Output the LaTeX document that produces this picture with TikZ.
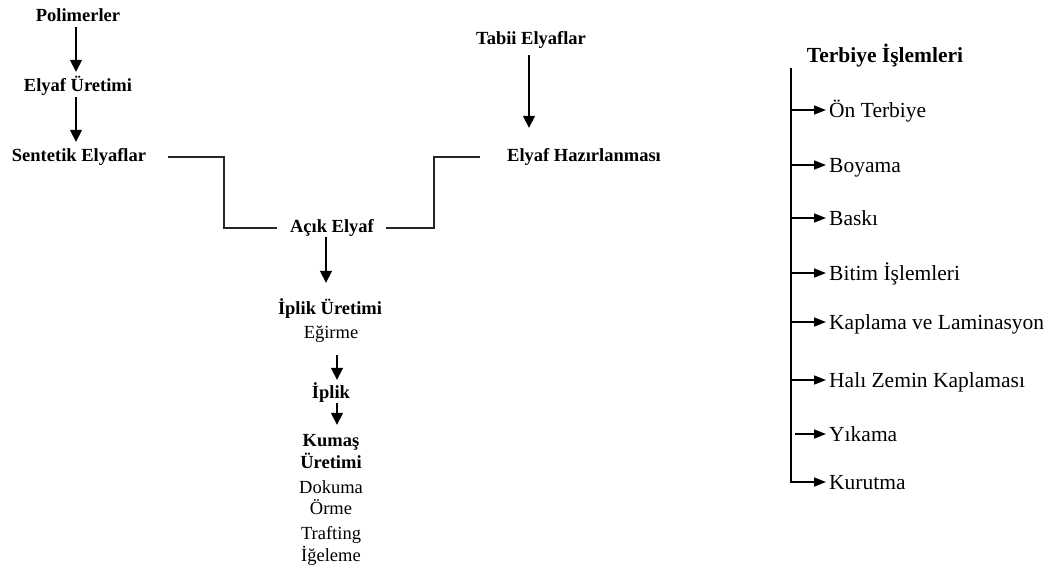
\documentclass[tikz,border=0pt]{standalone}
\usepackage{fontspec}
\setmainfont{Liberation Serif}
\usetikzlibrary{arrows.meta}
\begin{document}
\begin{tikzpicture}[x=1pt,y=-1pt,
  lb/.style={font=\fontsize{18.5}{22}\selectfont\bfseries, inner sep=0pt, text height=13pt, text depth=4pt},
  lr/.style={font=\fontsize{18.5}{22}\selectfont, inner sep=0pt, text height=13pt, text depth=4pt},
  rb/.style={font=\fontsize{21.5}{26}\selectfont\bfseries, inner sep=0pt, text height=15.5pt, text depth=1.5pt},
  rr/.style={font=\fontsize{21.5}{26}\selectfont, inner sep=0pt, text height=15.5pt, text depth=1.5pt, anchor=west},
  link/.style={line width=1.8pt, draw=black!85},
  arr/.style={line width=1.6pt, -{Triangle[length=12pt,width=12pt]}},
  sarr/.style={line width=1.6pt, -{Triangle[length=12pt,width=9pt]}}]
\useasboundingbox (0,0) rectangle (1051,566);

% synthetic fibre branch
\node[lb] (poly) at (78,17) {Polimerler};
\node[lb] (eu) at (78,87) {Elyaf Üretimi};
\node[lb] (sent) at (79,157) {Sentetik Elyaflar};

% natural fibre branch
\node[lb] (tabii) at (531,40) {Tabii Elyaflar};
\node[lb] (haz) at (584,157) {Elyaf Hazırlanması};

% merged stream
\node[lb] (acik) at (332,228) {Açık Elyaf};
\node[lb] (iplu) at (330,310) {İplik Üretimi};
\node[lr] (egir) at (331,334) {Eğirme};
\node[lb] (iplik) at (331,394) {İplik};
\node[lb] (kum) at (331,442) {Kumaş};
\node[lb] (uret) at (331,464) {Üretimi};
\node[lr] (dok) at (331,489) {Dokuma};
\node[lr] (orme) at (331,510) {Örme};
\node[lr] (traft) at (331,535) {Trafting};
\node[lr] (igel) at (331,557) {İğeleme};

\draw[arr, shorten <=1.5pt, shorten >=6.5pt] ([xshift=-2pt]poly.south) -- ([xshift=-2pt]eu.north);
\draw[arr, shorten <=1.5pt, shorten >=6.5pt] ([xshift=-2pt]eu.south) -- ([xshift=-3pt]sent.north);
\draw[arr, shorten <=6.5pt, shorten >=20.5pt] ([xshift=-2pt]tabii.south) -- ([xshift=-55pt]haz.north);

\draw[link] ([xshift=22pt]sent.east) -| ([xshift=-66pt]acik.west) -- ([xshift=-13pt]acik.west);
\draw[link] ([xshift=12pt]acik.east) -| ([xshift=-73pt]haz.west) -- ([xshift=-27pt]haz.west);

\draw[arr, shorten <=0.5pt, shorten >=18.5pt] ([xshift=-6pt]acik.south) -- ([xshift=-4pt]iplu.north);
\draw[arr, shorten <=12.5pt, shorten >=5.5pt] ([xshift=6pt]egir.south) -- ([xshift=6pt]iplik.north);
\draw[arr, shorten >=8.5pt] ([xshift=6pt]iplik.south) -- ([xshift=6pt]kum.north);

% finishing processes
\node[rb] (terb) at (885,55) {Terbiye İşlemleri};
\coordinate (spine) at (791,68);
\node[rr] (on) at (829,110) {Ön Terbiye};
\node[rr] (boy) at (829,165) {Boyama};
\node[rr] (bas) at (829,218) {Baskı};
\node[rr] (bit) at (829,273) {Bitim İşlemleri};
\node[rr] (kap) at (829,322) {Kaplama ve Laminasyon};
\node[rr] (hali) at (829,380) {Halı Zemin Kaplaması};
\node[rr] (yik) at (829,434) {Yıkama};
\node[rr] (kur) at (829,482) {Kurutma};

\draw[sarr, shorten >=3pt] (spine) |- (kur.west);
\foreach \n in {on,boy,bas,bit,kap,hali}
  \draw[sarr, shorten >=3pt] (spine |- \n.west) -- (\n.west);
% this branch starts just clear of the spine
\draw[sarr, shorten <=4pt, shorten >=3pt] (spine |- yik.west) -- (yik.west);
\end{tikzpicture}
\end{document}
